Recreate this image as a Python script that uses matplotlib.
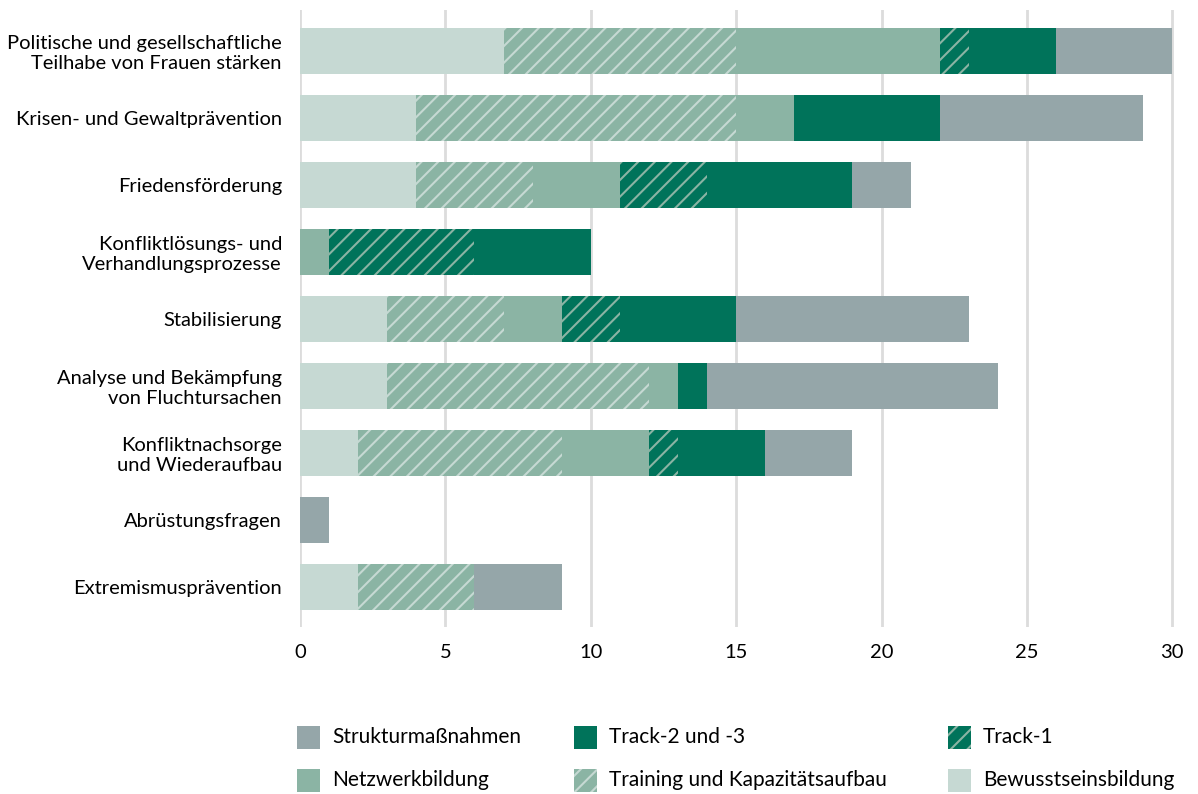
import matplotlib
matplotlib.use('Agg')
import matplotlib.pyplot as plt
from matplotlib.patches import Rectangle
import numpy as np

plt.rcParams['font.family'] = ['Lato', 'DejaVu Sans']
plt.rcParams['hatch.linewidth'] = 1.5

# Themen (von oben nach unten)
categories = [
    'Politische und gesellschaftliche\nTeilhabe von Frauen stärken',
    'Krisen- und Gewaltprävention',
    'Friedensförderung',
    'Konfliktlösungs- und\nVerhandlungsprozesse',
    'Stabilisierung',
    'Analyse und Bekämpfung\nvon Fluchtursachen',
    'Konfliktnachsorge\nund Wiederaufbau',
    'Abrüstungsfragen',
    'Extremismusprävention',
]

# Werte je Maßnahmentyp (Reihenfolge der Stapel von links nach rechts)
bewusstsein = [7, 4, 4, 0, 3, 3, 2, 0, 2]
training = [8, 11, 4, 0, 4, 9, 7, 0, 4]
netzwerk = [7, 2, 3, 1, 2, 1, 3, 0, 0]
track1 = [1, 0, 3, 5, 2, 0, 1, 0, 0]
track23 = [3, 5, 5, 4, 4, 1, 3, 0, 0]
struktur = [4, 7, 2, 0, 8, 10, 3, 1, 3]

x_ticks = [0, 5, 10, 15, 20, 25, 30]

LIGHT = '#c6d9d3'
MID = '#8bb4a4'
DARK = '#00735a'
GRAY = '#95a6a9'

# name, werte, farbe, schraffur, schraffurfarbe
series = [
    ('Bewusstseinsbildung', bewusstsein, LIGHT, None, LIGHT),
    ('Training und Kapazitätsaufbau', training, MID, '//', LIGHT),
    ('Netzwerkbildung', netzwerk, MID, None, MID),
    ('Track-1', track1, DARK, '//', MID),
    ('Track-2 und -3', track23, DARK, None, DARK),
    ('Strukturmaßnahmen', struktur, GRAY, None, GRAY),
]
styles = {name: (c, h, hc) for name, _, c, h, hc in series}

W, H = 1198, 794
fig = plt.figure(figsize=(W / 100, H / 100), dpi=100)
ax = fig.add_axes([300 / W, 1 - 627 / H, 881 / W, 617 / H])

y = np.arange(len(categories))
left = np.zeros(len(categories))
for name, vals, color, hatch, hcolor in series:
    vals = np.array(vals, dtype=float)
    ax.barh(y, vals, left=left, height=0.69, color=color,
            hatch=hatch, edgecolor=hcolor, linewidth=0, zorder=3)
    left += vals

ax.set_xlim(0, 30.3)
ax.set_ylim(len(categories) - 0.4, -0.61)
ax.set_yticks(y)
ax.set_yticklabels(categories, fontsize=14.5, ha='right')
ax.set_xticks(x_ticks)
ax.set_xticklabels([str(t) for t in x_ticks], fontsize=14.5)
ax.tick_params(length=0)
ax.tick_params(axis='x', pad=12)
ax.tick_params(axis='y', pad=13)
ax.grid(axis='x', color='#dcdcdc', linewidth=2, zorder=0)
for s in ax.spines.values():
    s.set_visible(False)

# Legende: drei Spalten, zwei Zeilen
legend_cols = [
    (297, ['Strukturmaßnahmen', 'Netzwerkbildung']),
    (574, ['Track-2 und -3', 'Training und Kapazitätsaufbau']),
    (948, ['Track-1', 'Bewusstseinsbildung']),
]
row_centers = [737, 780]
sq = 23
for xpos, names in legend_cols:
    for name, yc in zip(names, row_centers):
        c, h, hc = styles[name]
        fig.add_artist(Rectangle((xpos / W, 1 - (yc + sq / 2) / H), sq / W, sq / H,
                                 transform=fig.transFigure, facecolor=c, hatch=h,
                                 edgecolor=hc, linewidth=0))
        fig.text((xpos + sq + 12) / W, 1 - yc / H, name, fontsize=15,
                 va='center', ha='left')

fig.savefig('out.png', dpi=100)
